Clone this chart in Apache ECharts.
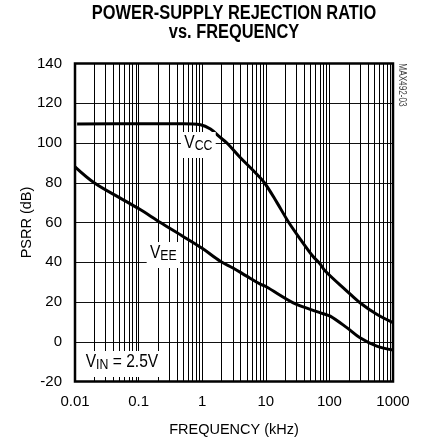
<!DOCTYPE html>
<html>
<head>
<meta charset="utf-8">
<script src="https://cdn.jsdelivr.net/npm/echarts@6/dist/echarts.min.js"></script>
<style>html,body{margin:0;padding:0;background:#fff}#c{width:422px;height:443px}</style>
</head>
<body>
<div id="c"></div>
<script>
// ---- data (frequency in kHz, PSRR in dB) ----
var vccFreq = [0.0108, 0.1, 0.5, 0.94, 1.35, 1.92, 2.45, 3.96, 6.4, 9.5, 15, 23, 36, 55, 70, 86, 188, 303, 555, 1000];
var vccPsrr = [109.5, 109.7, 109.7, 109.2, 107, 102.8, 100, 92.7, 86, 80, 70, 60, 51, 43, 39.5, 35.6, 25.5, 19.6, 13.8, 9.6];
var veeFreq = [0.01, 0.02, 0.05, 0.1, 0.22, 0.5, 1, 1.92, 3.1, 5, 8.2, 10, 27, 50, 80, 103, 188, 303, 555, 1000];
var veePsrr = [88, 80, 72.5, 67, 60, 53, 47, 40.5, 37, 33, 29, 27.8, 19.6, 16.3, 14.1, 12.9, 7.1, 2.0, -2.2, -4.2];
var xTickLabels = ['0.01', '0.1', '1', '10', '100', '1000'];
var yTicks = [-20, 0, 20, 40, 60, 80, 100, 120, 140];
// annotation labels: rich text, anchor frequency (kHz), anchor dB
var annText = ['{b|V}{s|CC}', '{b|V}{s|EE}', '{b|V}{s|IN}{b| = 2.5V}'];
var annFreq = [0.87, 0.245, 0.0547];
var annDb = [99, 43.6, -11.2];

var REG = '"Liberation Sans",Arial,Helvetica,sans-serif';
var NARROW_SCALE = 0.82;

function zip(a, b) { return a.map(function (v, i) { return [v, b[i]]; }); }

// minor vertical grid lines (2..9 in each decade)
var minorFreq = [];
for (var d = -2; d < 3; d++) {
  for (var k = 2; k <= 9; k++) minorFreq.push(+(k * Math.pow(10, d)).toPrecision(3));
}

var chart = echarts.init(document.getElementById('c'), null, { renderer: 'canvas' });
var yMin = yTicks[0], yMax = yTicks[yTicks.length - 1];
var option = {
  animation: false,
  backgroundColor: '#fff',
  grid: {
    left: 75, right: 29, top: 63.5, bottom: 61.5,
    show: true, borderColor: '#000', borderWidth: 2.5, backgroundColor: 'transparent', z: 4
  },
  xAxis: {
    type: 'log', logBase: 10, min: 0.01, max: 1000,
    name: 'FREQUENCY (kHz)', nameLocation: 'middle', nameGap: 41, nameMoveOverlap: false,
    nameTextStyle: { fontFamily: REG, fontSize: 14.5, color: '#000' },
    axisLine: { show: false }, axisTick: { show: false },
    axisLabel: {
      margin: 13, fontFamily: REG, fontSize: 15, color: '#000',
      formatter: function (v) {
        var s = String(+(+v).toPrecision(3));
        return xTickLabels.indexOf(s) >= 0 ? s : '';
      }
    },
    splitLine: { show: true, lineStyle: { color: '#000', width: 1 } }
  },
  yAxis: {
    type: 'value', min: yMin, max: yMax, interval: 20,
    name: 'PSRR (dB)', nameLocation: 'middle', nameGap: 41, nameMoveOverlap: false,
    nameTextStyle: { fontFamily: REG, fontSize: 14.5, color: '#000' },
    axisLine: { show: false }, axisTick: { show: false },
    axisLabel: { margin: 13, fontFamily: REG, fontSize: 15, color: '#000' },
    splitLine: { show: true, lineStyle: { color: '#111', width: 1 } }
  },
  series: [
    {
      name: 'minorGrid', type: 'custom', z: 1, silent: true,
      data: minorFreq.map(function (f) { return [f, 0]; }),
      encode: { x: 0, y: 1 },
      renderItem: function (params, api) {
        var a = api.coord([api.value(0), yMin]);
        var b = api.coord([api.value(0), yMax]);
        var x = Math.round(a[0]) + 0.5;
        return { type: 'line', shape: { x1: x, y1: a[1], x2: x, y2: b[1] }, style: { stroke: '#000', lineWidth: 1 } };
      }
    },
    {
      name: 'VCC', type: 'line', data: zip(vccFreq, vccPsrr), z: 3,
      showSymbol: false, smooth: 0.35,
      lineStyle: { color: '#000', width: 3 }
    },
    {
      name: 'VEE', type: 'line', data: zip(veeFreq, veePsrr), z: 3,
      showSymbol: false, smooth: 0.35,
      lineStyle: { color: '#000', width: 3 }
    }
  ]
};
chart.setOption(option);

// text overlays (title, curve labels, figure code) — condensed look via horizontal scale
var richStyle = {
  b: { fontFamily: REG, fontSize: 19, fill: '#000', lineHeight: 19, verticalAlign: 'bottom', padding: [0, 0, 1, 0] },
  s: { fontFamily: REG, fontSize: 15, fill: '#000', lineHeight: 19, verticalAlign: 'bottom' }
};
var graphics = [
  {
    type: 'text', x: 234, y: 4, scaleX: NARROW_SCALE, z: 20,
    style: {
      text: 'POWER-SUPPLY REJECTION RATIO\nvs. FREQUENCY',
      fontFamily: REG, fontWeight: 'bold', fontSize: 20, lineHeight: 19,
      fill: '#000', align: 'center', verticalAlign: 'top'
    }
  },
  {
    type: 'text', x: 402, y: 85, rotation: -Math.PI / 2, scaleX: NARROW_SCALE, z: 20,
    style: { text: 'MAX492-03', fontFamily: REG, fontSize: 10, fill: '#444', align: 'center', verticalAlign: 'middle' }
  }
];
annText.forEach(function (t, i) {
  var p = chart.convertToPixel({ gridIndex: 0 }, [annFreq[i], annDb[i]]);
  graphics.push({
    type: 'text', x: p[0], y: p[1], scaleX: NARROW_SCALE, z: 20,
    style: {
      text: t, rich: richStyle, align: 'center', verticalAlign: 'middle',
      backgroundColor: '#fff', padding: [2, 4, 5, 4]
    }
  });
});
chart.setOption({ graphic: graphics });
</script>
</body>
</html>
